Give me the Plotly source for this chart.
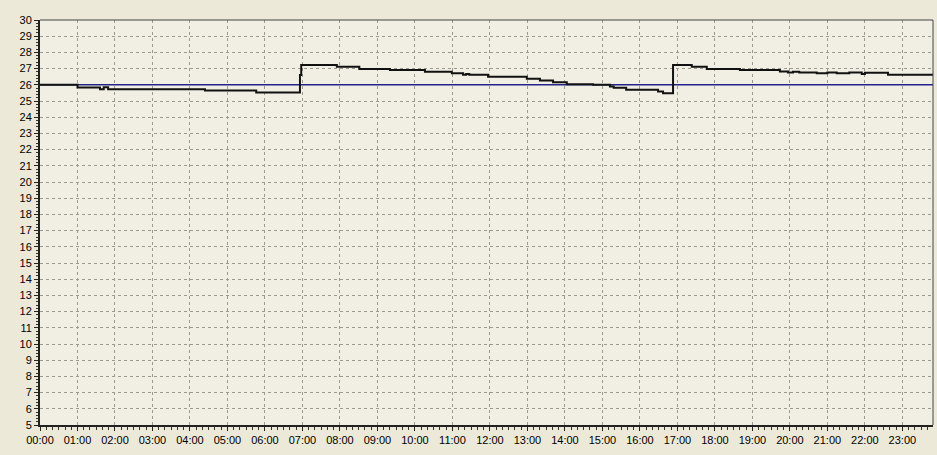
import plotly.graph_objects as go

DAY = "2000-01-01 "

# Measured temperature (step series)
meas_times = ["00:00", "01:00", "01:36", "01:42", "01:49", "04:24", "05:46", "06:56", "06:58",
              "07:55", "08:31", "09:20", "10:16", "10:59", "11:17", "11:22", "11:27", "11:57",
              "12:59", "13:20", "13:41", "14:03", "14:45", "15:12", "15:18", "15:38", "16:29",
              "16:37", "16:53", "17:23", "17:47", "18:40", "19:44", "19:57", "20:05", "20:15",
              "20:43", "21:00", "21:15", "21:35", "21:55", "22:00", "22:37", "23:49"]
meas_values = [26.0, 25.83, 25.72, 25.85, 25.73, 25.65, 25.52, 26.6, 27.22,
               27.12, 26.98, 26.92, 26.8, 26.72, 26.62, 26.67, 26.62, 26.5,
               26.37, 26.26, 26.15, 26.04, 26.0, 25.9, 25.82, 25.69, 25.58,
               25.48, 27.22, 27.12, 26.98, 26.92, 26.82, 26.76, 26.8, 26.76,
               26.72, 26.76, 26.72, 26.76, 26.66, 26.74, 26.62, 26.62]

# Setpoint
set_times = ["00:00", "23:49"]
set_values = [26.0, 26.0]

hour_ticks = ["%02d:00" % h for h in range(24)]
y_ticks = list(range(5, 31))

fig = go.Figure()
fig.add_trace(go.Scatter(x=[DAY + t for t in set_times], y=set_values, mode="lines",
                         line=dict(color="#23238a", width=1.6), hoverinfo="skip"))
fig.add_trace(go.Scatter(x=[DAY + t for t in meas_times], y=meas_values, mode="lines",
                         line=dict(color="#111111", width=2, shape="hv")))

fig.update_layout(
    width=937, height=455,
    margin=dict(l=40, r=4, t=20, b=30, autoexpand=False),
    paper_bgcolor="#ECE9D8",
    plot_bgcolor="#F1EFE3",
    showlegend=False,
    font=dict(family="Liberation Sans, Arial", size=11, color="#000000"),
    xaxis=dict(
        type="date",
        range=[DAY + "00:00", DAY + "23:49"],
        tickvals=[DAY + t for t in hour_ticks],
        ticktext=hour_ticks,
        ticks="outside", ticklen=4, tickcolor="#222222", tickwidth=1,
        showgrid=True, gridcolor="#9a9a90", griddash="3px,3px", gridwidth=1,
        showline=True, linecolor="#222222", linewidth=2,
        zeroline=False,
        minor=dict(dtick=600000, ticks="outside", ticklen=3, tickcolor="#333333", showgrid=False),
    ),
    yaxis=dict(
        range=[5, 30],
        tickvals=y_ticks,
        ticks="outside", ticklen=4, tickcolor="#222222", tickwidth=1,
        showgrid=True, gridcolor="#9a9a90", griddash="3px,3px", gridwidth=1,
        showline=True, linecolor="#222222", linewidth=2,
        zeroline=False,
        ticklabelstandoff=0,
        minor=dict(dtick=0.2, ticks="outside", ticklen=2, tickcolor="#333333", showgrid=False),
    ),
    shapes=[
        dict(type="line", xref="paper", yref="paper", x0=0, x1=1, y0=1, y1=1,
             line=dict(color="#444444", width=1)),
        dict(type="line", xref="paper", yref="paper", x0=1, x1=1, y0=0, y1=1,
             line=dict(color="#444444", width=1)),
    ],
)

fig.write_html("out.html", config={"displayModeBar": False},
               post_script="document.body.style.margin='0';document.body.style.overflow='hidden';")
